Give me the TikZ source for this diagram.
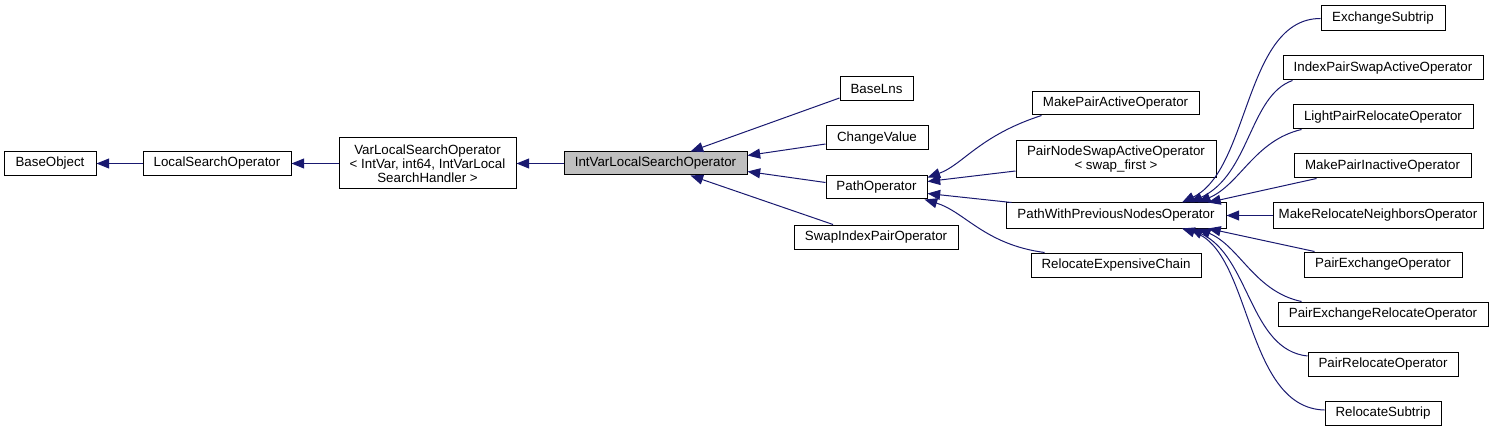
\documentclass[tikz,border=0pt]{standalone}
\usepackage{fontspec}
\setmainfont{Liberation Sans}
\usetikzlibrary{arrows.meta,calc}
\newlength\pxu
\setlength\pxu{0.75pt}
\definecolor{edgeblue}{HTML}{191970}
\definecolor{curgray}{HTML}{BFBFBF}
\begin{document}
\begin{tikzpicture}[x=0.75pt,y=-0.75pt,
  box/.style={draw=black,line width=0.75pt,fill=white,inner sep=0pt,minimum height=24\pxu,
    align=center,font=\fontsize{10pt}{10.5pt}\selectfont},
  inh/.style={draw=edgeblue,line width=0.75pt,{Triangle[length=9.5pt,width=7.5pt]}-}]
\useasboundingbox (0,0) rectangle (1499,431);
% nodes
\node[box,minimum width=92\pxu] (baseobj) at (50,163.5) {BaseObject};
\node[box,minimum width=148\pxu] (local) at (217,163.5) {LocalSearchOperator};
\node[box,minimum width=177\pxu,minimum height=51\pxu] (var) at (427.5,163.5) {VarLocalSearchOperator\\\textless{} IntVar, int64, IntVarLocal\\SearchHandler \textgreater};
\node[box,fill=curgray,minimum width=183\pxu,minimum height=23\pxu] (intvar) at (655.5,163.5) {IntVarLocalSearchOperator};
\node[box,minimum width=73\pxu] (baselns) at (876.5,89) {BaseLns};
\node[box,minimum width=102\pxu] (changevalue) at (877,138) {ChangeValue};
\node[box,minimum width=101\pxu,minimum height=23\pxu] (pathop) at (876.5,187.5) {PathOperator};
\node[box,minimum width=164\pxu] (swapidx) at (876,237) {SwapIndexPairOperator};
\node[box,minimum width=167\pxu,minimum height=23\pxu] (makepairactive) at (1115.5,103.5) {MakePairActiveOperator};
\node[box,minimum width=200\pxu,minimum height=37\pxu] (pairnodeswap) at (1116,159.5) {PairNodeSwapActiveOperator\\\textless{} swap\_first \textgreater};
\node[box,minimum width=220\pxu,minimum height=25\pxu] (pwp) at (1116,215.5) {PathWithPreviousNodesOperator};
\node[box,minimum width=170\pxu] (relexp) at (1116,265) {RelocateExpensiveChain};
\node[box,minimum width=124\pxu,minimum height=25\pxu] (exsub) at (1383,18.5) {ExchangeSubtrip};
\node[box,minimum width=200\pxu] (idxpair) at (1383,68) {IndexPairSwapActiveOperator};
\node[box,minimum width=180\pxu] (lightpair) at (1383,117) {LightPairRelocateOperator};
\node[box,minimum width=177\pxu] (mkinactive) at (1382.5,166) {MakePairInactiveOperator};
\node[box,minimum width=210\pxu,minimum height=25\pxu] (mrn) at (1378,215.5) {MakeRelocateNeighborsOperator};
\node[box,minimum width=158\pxu,minimum height=25\pxu] (pairex) at (1383,264.5) {PairExchangeOperator};
\node[box,minimum width=210\pxu] (pexrel) at (1383,314) {PairExchangeRelocateOperator};
\node[box,minimum width=150\pxu] (prel) at (1383,364) {PairRelocateOperator};
\node[box,minimum width=116\pxu] (relsub) at (1383,413) {RelocateSubtrip};
% edges (arrow tip at base class)
\draw[inh] (baseobj.east) -- (local.west);
\draw[inh] (local.east) -- (var.west);
\draw[inh] (var.east) -- (intvar.west);
\draw[inh] ($(intvar.north)+(35,0)$) -- ($(baselns.west)+(0,9)$);
\draw[inh] ($(intvar.east)+(0,-8)$) -- ($(changevalue.west)+(0,6)$);
\draw[inh] ($(intvar.east)+(0,8)$) -- ($(pathop.west)+(0,-5)$);
\draw[inh] ($(intvar.south)+(35,0)$) -- ($(swapidx.north)+(-43,0)$);
% PathOperator children
\draw[inh] ($(pathop.east)+(0,-10)$) .. controls +(35,-12.5) and +(-62,20) .. ($(makepairactive.south west)+(10,0)$);
\draw[inh] ($(pathop.east)+(0,-6)$) -- ($(pairnodeswap.west)+(0,11.5)$);
\draw[inh] ($(pathop.east)+(0,6)$) -- ($(pwp.north west)+(6,0)$);
\draw[inh] ($(pathop.south east)+(-3,0)$) .. controls +(40,12) and +(-60,-8) .. ($(relexp.north west)+(14,0)$);
% PathWithPreviousNodesOperator children
\draw[inh] ($(pwp.north)+(66,0)$) .. controls +(68,-33) and +(-76,0) .. (exsub.west);
\draw[inh] ($(pwp.north)+(74,0)$) .. controls +(60,-28) and +(-43,15) .. ($(idxpair.south west)+(10,0)$);
\draw[inh] ($(pwp.north)+(82,0)$) .. controls +(42,-18) and +(-47,11) .. ($(lightpair.south west)+(9,0)$);
\draw[inh] ($(pwp.north)+(92,0)$) -- ($(mkinactive.south west)+(23,0)$);
\draw[inh] (pwp.east) -- (mrn.west);
\draw[inh] ($(pwp.south)+(92,0)$) -- ($(pairex.north west)+(11,0)$);
\draw[inh] ($(pwp.south)+(82,0)$) .. controls +(42,18) and +(-47,-10) .. ($(pexrel.north west)+(24,0)$);
\draw[inh] ($(pwp.south)+(74,0)$) .. controls +(60,28) and +(-58,-6) .. ($(prel.west)+(0,-8)$);
\draw[inh] ($(pwp.south)+(66,0)$) .. controls +(70,22) and +(-80,-2) .. ($(relsub.west)+(0,-3)$);
\end{tikzpicture}
\end{document}
